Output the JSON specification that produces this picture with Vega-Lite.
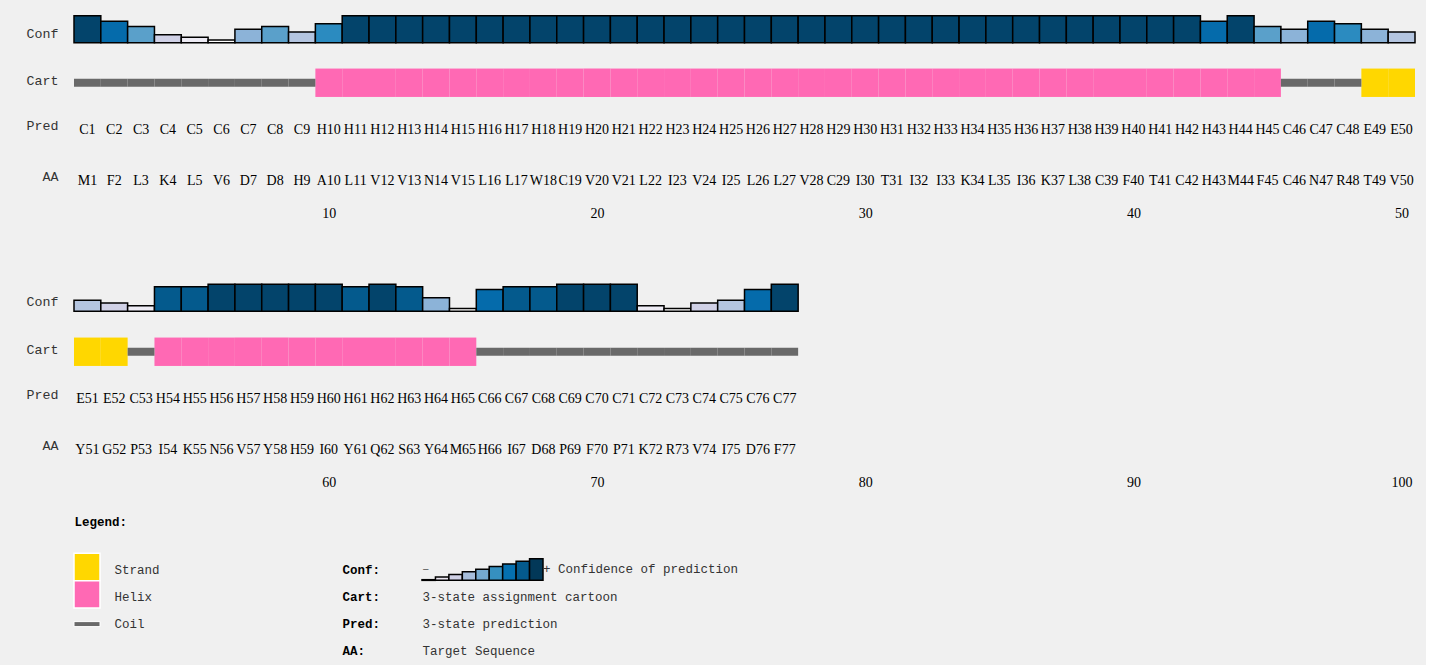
{
  "$schema": "https://vega.github.io/schema/vega-lite/v6.json",
  "background": "#f0f0f0",
  "padding": {"left": 26, "top": 14.75, "right": 10, "bottom": 0},
  "autosize": {"type": "pad"},
  "config": {"view": {"stroke": null}, "axis": {"grid": false}},
  "datasets": {
    "seq": [
      {"pos":1,"aa":"M1","pred":"C1","ss":"C","conf":9},
      {"pos":2,"aa":"F2","pred":"C2","ss":"C","conf":7},
      {"pos":3,"aa":"L3","pred":"C3","ss":"C","conf":5},
      {"pos":4,"aa":"K4","pred":"C4","ss":"C","conf":2},
      {"pos":5,"aa":"L5","pred":"C5","ss":"C","conf":1},
      {"pos":6,"aa":"V6","pred":"C6","ss":"C","conf":0},
      {"pos":7,"aa":"D7","pred":"C7","ss":"C","conf":4},
      {"pos":8,"aa":"D8","pred":"C8","ss":"C","conf":5},
      {"pos":9,"aa":"H9","pred":"C9","ss":"C","conf":3},
      {"pos":10,"aa":"A10","pred":"H10","ss":"H","conf":6},
      {"pos":11,"aa":"L11","pred":"H11","ss":"H","conf":9},
      {"pos":12,"aa":"V12","pred":"H12","ss":"H","conf":9},
      {"pos":13,"aa":"V13","pred":"H13","ss":"H","conf":9},
      {"pos":14,"aa":"N14","pred":"H14","ss":"H","conf":9},
      {"pos":15,"aa":"V15","pred":"H15","ss":"H","conf":9},
      {"pos":16,"aa":"L16","pred":"H16","ss":"H","conf":9},
      {"pos":17,"aa":"L17","pred":"H17","ss":"H","conf":9},
      {"pos":18,"aa":"W18","pred":"H18","ss":"H","conf":9},
      {"pos":19,"aa":"C19","pred":"H19","ss":"H","conf":9},
      {"pos":20,"aa":"V20","pred":"H20","ss":"H","conf":9},
      {"pos":21,"aa":"V21","pred":"H21","ss":"H","conf":9},
      {"pos":22,"aa":"L22","pred":"H22","ss":"H","conf":9},
      {"pos":23,"aa":"I23","pred":"H23","ss":"H","conf":9},
      {"pos":24,"aa":"V24","pred":"H24","ss":"H","conf":9},
      {"pos":25,"aa":"I25","pred":"H25","ss":"H","conf":9},
      {"pos":26,"aa":"L26","pred":"H26","ss":"H","conf":9},
      {"pos":27,"aa":"L27","pred":"H27","ss":"H","conf":9},
      {"pos":28,"aa":"V28","pred":"H28","ss":"H","conf":9},
      {"pos":29,"aa":"C29","pred":"H29","ss":"H","conf":9},
      {"pos":30,"aa":"I30","pred":"H30","ss":"H","conf":9},
      {"pos":31,"aa":"T31","pred":"H31","ss":"H","conf":9},
      {"pos":32,"aa":"I32","pred":"H32","ss":"H","conf":9},
      {"pos":33,"aa":"I33","pred":"H33","ss":"H","conf":9},
      {"pos":34,"aa":"K34","pred":"H34","ss":"H","conf":9},
      {"pos":35,"aa":"L35","pred":"H35","ss":"H","conf":9},
      {"pos":36,"aa":"I36","pred":"H36","ss":"H","conf":9},
      {"pos":37,"aa":"K37","pred":"H37","ss":"H","conf":9},
      {"pos":38,"aa":"L38","pred":"H38","ss":"H","conf":9},
      {"pos":39,"aa":"C39","pred":"H39","ss":"H","conf":9},
      {"pos":40,"aa":"F40","pred":"H40","ss":"H","conf":9},
      {"pos":41,"aa":"T41","pred":"H41","ss":"H","conf":9},
      {"pos":42,"aa":"C42","pred":"H42","ss":"H","conf":9},
      {"pos":43,"aa":"H43","pred":"H43","ss":"H","conf":7},
      {"pos":44,"aa":"M44","pred":"H44","ss":"H","conf":9},
      {"pos":45,"aa":"F45","pred":"H45","ss":"H","conf":5},
      {"pos":46,"aa":"C46","pred":"C46","ss":"C","conf":4},
      {"pos":47,"aa":"N47","pred":"C47","ss":"C","conf":7},
      {"pos":48,"aa":"R48","pred":"C48","ss":"C","conf":6},
      {"pos":49,"aa":"T49","pred":"E49","ss":"E","conf":4},
      {"pos":50,"aa":"V50","pred":"E50","ss":"E","conf":3},
      {"pos":51,"aa":"Y51","pred":"E51","ss":"E","conf":3},
      {"pos":52,"aa":"G52","pred":"E52","ss":"E","conf":2},
      {"pos":53,"aa":"P53","pred":"C53","ss":"C","conf":1},
      {"pos":54,"aa":"I54","pred":"H54","ss":"H","conf":8},
      {"pos":55,"aa":"K55","pred":"H55","ss":"H","conf":8},
      {"pos":56,"aa":"N56","pred":"H56","ss":"H","conf":9},
      {"pos":57,"aa":"V57","pred":"H57","ss":"H","conf":9},
      {"pos":58,"aa":"Y58","pred":"H58","ss":"H","conf":9},
      {"pos":59,"aa":"H59","pred":"H59","ss":"H","conf":9},
      {"pos":60,"aa":"I60","pred":"H60","ss":"H","conf":9},
      {"pos":61,"aa":"Y61","pred":"H61","ss":"H","conf":8},
      {"pos":62,"aa":"Q62","pred":"H62","ss":"H","conf":9},
      {"pos":63,"aa":"S63","pred":"H63","ss":"H","conf":8},
      {"pos":64,"aa":"Y64","pred":"H64","ss":"H","conf":4},
      {"pos":65,"aa":"M65","pred":"H65","ss":"H","conf":0},
      {"pos":66,"aa":"H66","pred":"C66","ss":"C","conf":7},
      {"pos":67,"aa":"I67","pred":"C67","ss":"C","conf":8},
      {"pos":68,"aa":"D68","pred":"C68","ss":"C","conf":8},
      {"pos":69,"aa":"P69","pred":"C69","ss":"C","conf":9},
      {"pos":70,"aa":"F70","pred":"C70","ss":"C","conf":9},
      {"pos":71,"aa":"P71","pred":"C71","ss":"C","conf":9},
      {"pos":72,"aa":"K72","pred":"C72","ss":"C","conf":1},
      {"pos":73,"aa":"R73","pred":"C73","ss":"C","conf":0},
      {"pos":74,"aa":"V74","pred":"C74","ss":"C","conf":2},
      {"pos":75,"aa":"I75","pred":"C75","ss":"C","conf":3},
      {"pos":76,"aa":"D76","pred":"C76","ss":"C","conf":7},
      {"pos":77,"aa":"F77","pred":"C77","ss":"C","conf":9}
    ],
    "sslegend": [
      {"item":"Strand","ss":"E"},
      {"item":"Helix","ss":"H"},
      {"item":"Coil","ss":"C"}
    ],
    "ramp": [
      {"level":0},{"level":1},{"level":2},{"level":3},{"level":4},
      {"level":5},{"level":6},{"level":7},{"level":8}
    ],
    "keys": [
      {"key":"Cart:","desc":"3-state assignment cartoon"},
      {"key":"Pred:","desc":"3-state prediction"},
      {"key":"AA:","desc":"Target Sequence"}
    ]
  },
  "spacing": 0,
  "bounds": "flush",
  "resolve": {"scale": {"x": "independent", "y": "independent", "color": "independent"}},
  "vconcat": [
    {
      "width": 1341, "height": 27,
      "data": {"name": "seq"},
      "transform": [{"filter": "datum.pos <= 50"}],
      "mark": {"type": "bar", "stroke": "#000", "strokeWidth": 1.5},
      "encoding": {
        "x": {"field": "pos", "type": "ordinal", "scale": {"domain": [1,2,3,4,5,6,7,8,9,10,11,12,13,14,15,16,17,18,19,20,21,22,23,24,25,26,27,28,29,30,31,32,33,34,35,36,37,38,39,40,41,42,43,44,45,46,47,48,49,50], "paddingInner": 0, "paddingOuter": 0}, "axis": null},
        "y": {"field": "conf", "type": "quantitative", "scale": {"domain": [-1, 9], "nice": false, "zero": false},
              "axis": {"title": "Conf", "labels": false, "ticks": false, "tickSize": 0, "domain": false, "grid": false, "titleAngle": 0, "titleAlign": "right", "titleBaseline": "middle", "titleX": -16, "titleY": 17.5, "titleFont": "Liberation Mono", "titleFontSize": 13.3, "titleFontWeight": "normal", "titleColor": "#333"}},
        "y2": {"datum": -1},
        "color": {"field": "conf", "type": "ordinal", "scale": {"domain": [0,1,2,3,4,5,6,7,8,9], "range": ["#ffffff","#edebf4","#d0d1e6","#b4c5e0","#8cb3d8","#5aa0ca","#2b8bc0","#056bab","#045a8d","#03446b"]}, "legend": null}
      }
    },
    {
      "width": 1341, "height": 62,
      "data": {"name": "seq"},
      "transform": [{"filter": "datum.pos <= 50"}],
      "encoding": {
        "x": {"field": "pos", "type": "ordinal", "scale": {"domain": [1,2,3,4,5,6,7,8,9,10,11,12,13,14,15,16,17,18,19,20,21,22,23,24,25,26,27,28,29,30,31,32,33,34,35,36,37,38,39,40,41,42,43,44,45,46,47,48,49,50], "paddingInner": 0, "paddingOuter": 0}, "axis": null},
        "y": {"datum": "Cart", "type": "nominal", "scale": {"domain": ["Cart"], "paddingInner": 0, "paddingOuter": 0.5915, "align": 0.768},
              "axis": {"title": null, "labelFont": "Liberation Mono", "labelFontSize": 13.3, "labelColor": "#333", "labelPadding": 16, "labelOffset": -1.5, "ticks": false, "tickSize": 0, "domain": false}},
        "color": {"field": "ss", "type": "nominal", "scale": {"domain": ["E","H","C"], "range": ["#ffd700","#ff69b4","#696969"]}, "legend": null}
      },
      "layer": [
        {"transform": [{"filter": "datum.ss !== 'C'"}], "mark": {"type": "bar"}},
        {"transform": [{"filter": "datum.ss === 'C'"}], "mark": {"type": "bar", "height": 8}}
      ]
    },
    {
      "width": 1341, "height": 102,
      "data": {"name": "seq"},
      "transform": [{"filter": "datum.pos <= 50"}],
      "encoding": {
        "x": {"field": "pos", "type": "ordinal", "scale": {"domain": [1,2,3,4,5,6,7,8,9,10,11,12,13,14,15,16,17,18,19,20,21,22,23,24,25,26,27,28,29,30,31,32,33,34,35,36,37,38,39,40,41,42,43,44,45,46,47,48,49,50], "paddingInner": 0, "paddingOuter": 0},
              "axis": {"orient": "bottom", "values": [10,20,30,40,50], "labelAngle": 0, "labelFont": "Liberation Serif", "labelFontSize": 14, "labelColor": "#000", "labelPadding": 0, "ticks": false, "tickSize": 0, "domain": false, "title": null}}
      },
      "layer": [
        {"mark": {"type": "text", "font": "Liberation Serif", "fontSize": 14, "color": "#000"},
         "encoding": {"y": {"datum": "Pred", "type": "nominal", "scale": {"domain": ["Pred","AA"], "padding": 0.5},
                            "axis": {"title": null, "labelFont": "Liberation Mono", "labelFontSize": 13.3, "labelColor": "#333", "labelPadding": 16, "labelOffset": -4.5, "ticks": false, "tickSize": 0, "domain": false}},
                      "text": {"field": "pred"}}},
        {"mark": {"type": "text", "font": "Liberation Serif", "fontSize": 14, "color": "#000"},
         "encoding": {"y": {"datum": "AA", "type": "nominal"},
                      "text": {"field": "aa"}}}
      ]
    },
    {
      "width": 1341, "height": 104.4,
      "data": {"name": "seq"},
      "transform": [{"filter": "datum.pos > 50"}],
      "mark": {"type": "bar", "stroke": "#000", "strokeWidth": 1.5},
      "encoding": {
        "x": {"field": "pos", "type": "ordinal", "scale": {"domain": [51,52,53,54,55,56,57,58,59,60,61,62,63,64,65,66,67,68,69,70,71,72,73,74,75,76,77,78,79,80,81,82,83,84,85,86,87,88,89,90,91,92,93,94,95,96,97,98,99,100], "paddingInner": 0, "paddingOuter": 0}, "axis": null},
        "y": {"field": "conf", "type": "quantitative", "scale": {"domain": [-1, 37.667], "nice": false, "zero": false},
              "axis": {"title": "Conf", "labels": false, "ticks": false, "tickSize": 0, "domain": false, "grid": false, "titleAngle": 0, "titleAlign": "right", "titleBaseline": "middle", "titleX": -16, "titleY": 94.9, "titleFont": "Liberation Mono", "titleFontSize": 13.3, "titleFontWeight": "normal", "titleColor": "#333"}},
        "y2": {"datum": -1},
        "color": {"field": "conf", "type": "ordinal", "scale": {"domain": [0,1,2,3,4,5,6,7,8,9], "range": ["#ffffff","#edebf4","#d0d1e6","#b4c5e0","#8cb3d8","#5aa0ca","#2b8bc0","#056bab","#045a8d","#03446b"]}, "legend": null}
      }
    },
    {
      "width": 1341, "height": 62,
      "data": {"name": "seq"},
      "transform": [{"filter": "datum.pos > 50"}],
      "encoding": {
        "x": {"field": "pos", "type": "ordinal", "scale": {"domain": [51,52,53,54,55,56,57,58,59,60,61,62,63,64,65,66,67,68,69,70,71,72,73,74,75,76,77,78,79,80,81,82,83,84,85,86,87,88,89,90,91,92,93,94,95,96,97,98,99,100], "paddingInner": 0, "paddingOuter": 0}, "axis": null},
        "y": {"datum": "Cart", "type": "nominal", "scale": {"domain": ["Cart"], "paddingInner": 0, "paddingOuter": 0.5915, "align": 0.768},
              "axis": {"title": null, "labelFont": "Liberation Mono", "labelFontSize": 13.3, "labelColor": "#333", "labelPadding": 16, "labelOffset": -1.5, "ticks": false, "tickSize": 0, "domain": false}},
        "color": {"field": "ss", "type": "nominal", "scale": {"domain": ["E","H","C"], "range": ["#ffd700","#ff69b4","#696969"]}, "legend": null}
      },
      "layer": [
        {"transform": [{"filter": "datum.ss !== 'C'"}], "mark": {"type": "bar"}},
        {"transform": [{"filter": "datum.ss === 'C'"}], "mark": {"type": "bar", "height": 8}}
      ]
    },
    {
      "width": 1341, "height": 124.5,
      "data": {"name": "seq"},
      "transform": [{"filter": "datum.pos > 50"}],
      "encoding": {
        "x": {"field": "pos", "type": "ordinal", "scale": {"domain": [51,52,53,54,55,56,57,58,59,60,61,62,63,64,65,66,67,68,69,70,71,72,73,74,75,76,77,78,79,80,81,82,83,84,85,86,87,88,89,90,91,92,93,94,95,96,97,98,99,100], "paddingInner": 0, "paddingOuter": 0},
              "axis": {"orient": "bottom", "offset": -22.5, "values": [60,70,80,90,100], "labelAngle": 0, "labelFont": "Liberation Serif", "labelFontSize": 14, "labelColor": "#000", "labelPadding": 0, "ticks": false, "tickSize": 0, "domain": false, "title": null}}
      },
      "layer": [
        {"mark": {"type": "text", "font": "Liberation Serif", "fontSize": 14, "color": "#000"},
         "encoding": {"y": {"datum": "Pred", "type": "nominal", "scale": {"domain": ["Pred","AA"], "padding": 0.7206, "align": 0.347},
                            "axis": {"title": null, "labelFont": "Liberation Mono", "labelFontSize": 13.3, "labelColor": "#333", "labelPadding": 16, "labelOffset": -4.5, "ticks": false, "tickSize": 0, "domain": false}},
                      "text": {"field": "pred"}}},
        {"mark": {"type": "text", "font": "Liberation Serif", "fontSize": 14, "color": "#000"},
         "encoding": {"y": {"datum": "AA", "type": "nominal"},
                      "text": {"field": "aa"}}}
      ]
    },
    {
      "spacing": 322,
      "bounds": "flush",
      "resolve": {"scale": {"x": "independent", "y": "independent", "color": "independent"}},
      "hconcat": [
        {
          "width": 26, "height": 136.5,
          "data": {"name": "sslegend"},
          "encoding": {
            "y": {"field": "item", "type": "nominal", "sort": null,
                  "scale": {"domain": ["Strand","Helix","Coil"], "paddingInner": 0, "paddingOuter": 1, "align": 1},
                  "axis": {"orient": "right", "labelAlign": "left", "labelPadding": 14, "labelOffset": 2.5, "labelFont": "Liberation Mono", "labelFontSize": 12.5, "labelColor": "#333", "ticks": false, "tickSize": 0, "domain": false,
                           "title": "Legend:", "titleAngle": 0, "titleAlign": "left", "titleBaseline": "middle", "titleX": -26, "titleY": 22.6, "titleFont": "Liberation Mono", "titleFontSize": 12.5, "titleFontWeight": "bold", "titleColor": "#000"}},
            "color": {"field": "ss", "type": "nominal", "scale": {"domain": ["E","H","C"], "range": ["#ffd700","#ff69b4","#696969"]}, "legend": null}
          },
          "layer": [
            {"transform": [{"filter": "datum.ss !== 'C'"}], "mark": {"type": "bar", "stroke": "#ffffff", "strokeWidth": 1.5}},
            {"transform": [{"filter": "datum.ss === 'C'"}], "mark": {"type": "bar", "height": 5, "yOffset": 2.5, "stroke": "#ffffff", "strokeWidth": 1}}
          ]
        },
        {
          "spacing": 2.5,
          "bounds": "flush",
          "resolve": {"scale": {"x": "independent", "y": "independent", "color": "independent"}},
          "vconcat": [
            {
              "width": 121, "height": 81.6,
              "data": {"name": "ramp"},
              "encoding": {
                "x": {"field": "level", "type": "ordinal", "scale": {"domain": [0,1,2,3,4,5,6,7,8], "paddingInner": 0, "paddingOuter": 0}, "axis": null}
              },
              "layer": [
                {"mark": {"type": "bar", "stroke": "#000", "strokeWidth": 1.5},
                 "encoding": {
                   "y": {"field": "level", "type": "quantitative", "scale": {"domain": [-0.25, 30.78], "nice": false, "zero": false},
                         "axis": {"title": "Conf:", "labels": false, "ticks": false, "tickSize": 0, "domain": false, "grid": false, "titleAngle": 0, "titleAlign": "left", "titleBaseline": "middle", "titleX": -80, "titleY": 70.6, "titleFont": "Liberation Mono", "titleFontSize": 12.5, "titleFontWeight": "bold", "titleColor": "#000"}},
                   "y2": {"datum": -0.25},
                   "color": {"field": "level", "type": "ordinal", "scale": {"domain": [0,1,2,3,4,5,6,7,8], "range": ["#fff7fb","#ece7f2","#d0d1e6","#a6bddb","#74a9cf","#3690c0","#0570b0","#045a8d","#023858"]}, "legend": null}
                 }},
                {"transform": [{"filter": "datum.level === 0"}],
                 "mark": {"type": "text", "text": "–", "align": "left", "font": "Liberation Mono", "fontSize": 12.5, "color": "#666"},
                 "encoding": {"x": {"field": "level", "type": "ordinal", "bandPosition": 0}, "y": {"datum": 4}}},
                {"transform": [{"filter": "datum.level === 8"}],
                 "mark": {"type": "text", "text": "+ Confidence of prediction", "align": "left", "font": "Liberation Mono", "fontSize": 12.5, "color": "#333"},
                 "encoding": {"x": {"field": "level", "type": "ordinal", "bandPosition": 1}, "y": {"datum": 4}}}
              ]
            },
            {
              "width": 1, "height": 81,
              "data": {"name": "keys"},
              "mark": {"type": "text", "align": "left", "font": "Liberation Mono", "fontSize": 12.5, "color": "#333"},
              "encoding": {
                "y": {"field": "key", "type": "nominal", "sort": null, "scale": {"domain": ["Cart:","Pred:","AA:"], "paddingInner": 0, "paddingOuter": 0},
                      "axis": {"title": null, "labelAlign": "left", "labelPadding": 80, "labelFont": "Liberation Mono", "labelFontSize": 12.5, "labelFontWeight": "bold", "labelColor": "#000", "ticks": false, "tickSize": 0, "domain": false}},
                "text": {"field": "desc"}
              }
            }
          ]
        }
      ]
    }
  ]
}
